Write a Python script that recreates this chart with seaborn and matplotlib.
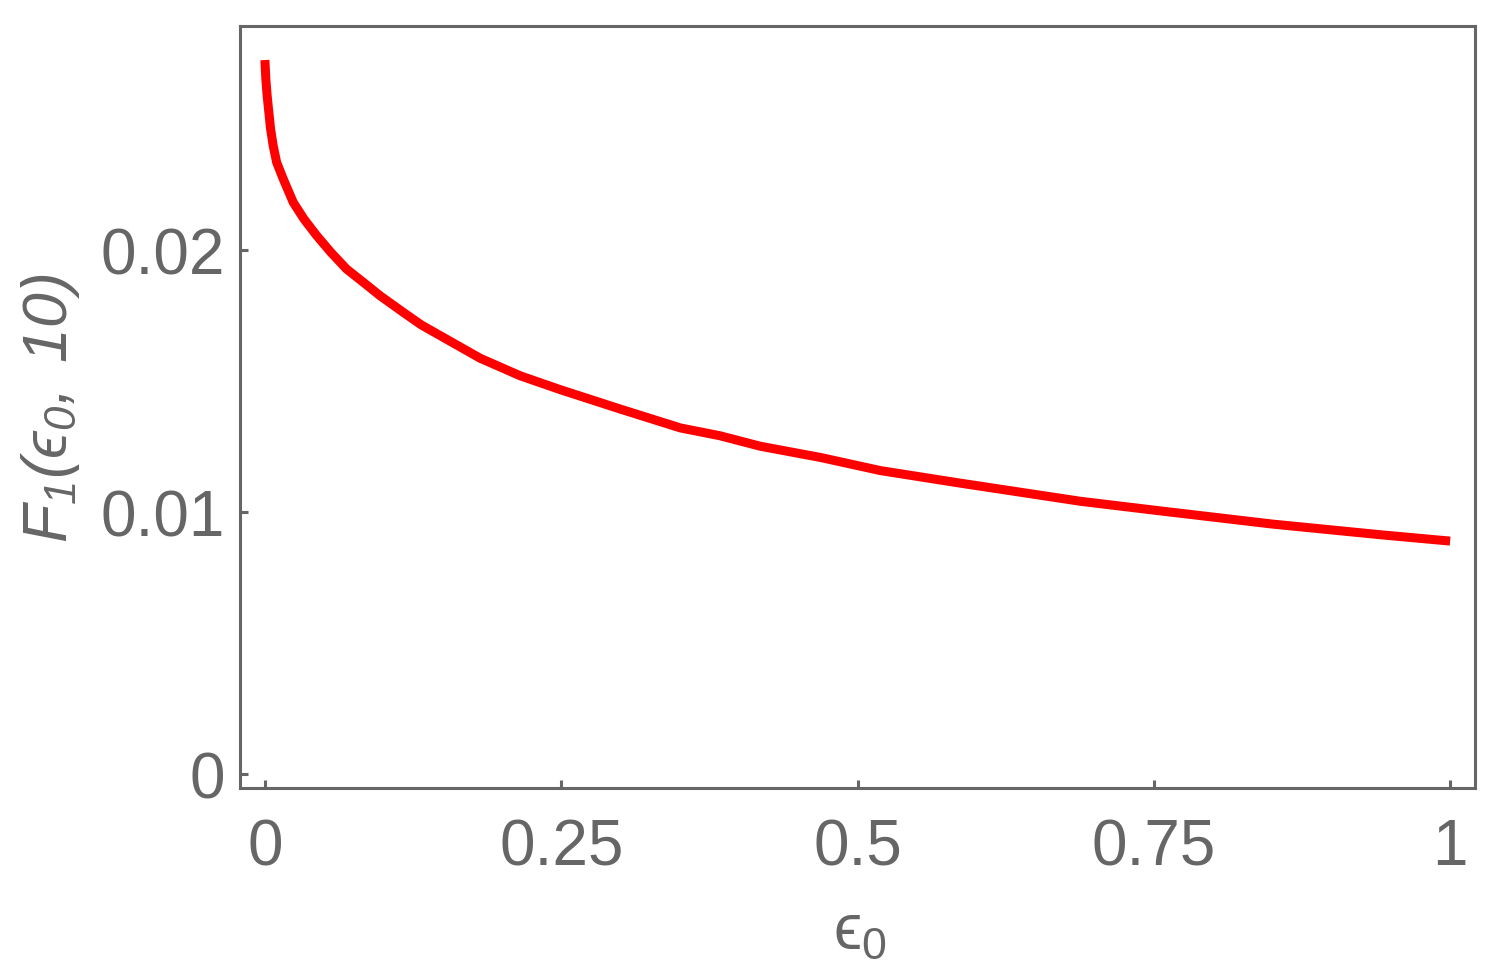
import numpy as np
import pandas as pd
import matplotlib
matplotlib.use("Agg")
import matplotlib.pyplot as plt
import seaborn as sns

# values
eps0 = [0.0, 0.0008, 0.0019, 0.0048, 0.0070, 0.0099, 0.0155, 0.0239, 0.033,
        0.0437, 0.0557, 0.069, 0.083, 0.097, 0.1168, 0.132, 0.1816, 0.2154,
        0.2492, 0.2998, 0.3505, 0.384, 0.418, 0.469, 0.5194, 0.587, 0.688,
        0.756, 0.85, 0.9417, 1.0]
f1 = [0.02725, 0.02653, 0.02589, 0.02462, 0.02398, 0.02335, 0.02271, 0.02182, 0.02118,
      0.02055, 0.01991, 0.01927, 0.01877, 0.01826, 0.01762, 0.01714, 0.01587, 0.01520,
      0.01467, 0.01393, 0.01321, 0.01291, 0.01251, 0.01208, 0.01158, 0.01110, 0.01041,
      0.01004, 0.00954, 0.00913, 0.00889]

xticks = [0, 0.25, 0.5, 0.75, 1]
xticklabels = ["0", "0.25", "0.5", "0.75", "1"]
yticks = [0, 0.01, 0.02]
yticklabels = ["0", "0.01", "0.02"]

df = pd.DataFrame({"eps0": eps0, "F1": f1})

sns.set_style("ticks")
grey = "#666666"
plt.rcParams["font.family"] = ["Liberation Sans", "DejaVu Sans"]
# math: italic everywhere for the y label (digits go to rm), upright via \mathsf
plt.rcParams["mathtext.fontset"] = "custom"
plt.rcParams["mathtext.rm"] = "Liberation Sans:italic"
plt.rcParams["mathtext.it"] = "Liberation Sans:italic"
plt.rcParams["mathtext.sf"] = "Liberation Sans"
plt.rcParams["mathtext.fallback"] = "stixsans"

fig = plt.figure(figsize=(15.01, 9.79), dpi=100)
ax = fig.add_axes([240 / 1501, 1 - 789 / 979, (1475 - 240) / 1501, (789 - 27) / 979])

sns.lineplot(data=df, x="eps0", y="F1", ax=ax, color="#ff0000", linewidth=6.5,
             solid_capstyle="butt", solid_joinstyle="round", estimator=None, sort=False)

ax.set_xlim(-0.021, 1.021)
ax.set_ylim(-0.000534, 0.02855)
ax.set_xticks(xticks)
ax.set_xticklabels(xticklabels)
ax.set_yticks(yticks)
ax.set_yticklabels(yticklabels)
ax.minorticks_off()

for s in ax.spines.values():
    s.set_color(grey)
    s.set_linewidth(2.2)
ax.tick_params(direction="in", length=6, width=2.2, color=grey, labelcolor=grey,
               labelsize=46)
ax.tick_params(axis="x", pad=21)
ax.tick_params(axis="y", pad=11)

ax.set_xlabel(r"$\mathsf{ϵ}_\mathsf{0}$", fontsize=46, color=grey)
ax.set_ylabel(r"$F_1(ϵ_0,\;10)$", fontsize=45, color=grey)
ax.xaxis.set_label_coords(0.502, -0.148)
ax.yaxis.set_label_coords(-0.128, 0.5)

fig.savefig("out.png", dpi=100)
